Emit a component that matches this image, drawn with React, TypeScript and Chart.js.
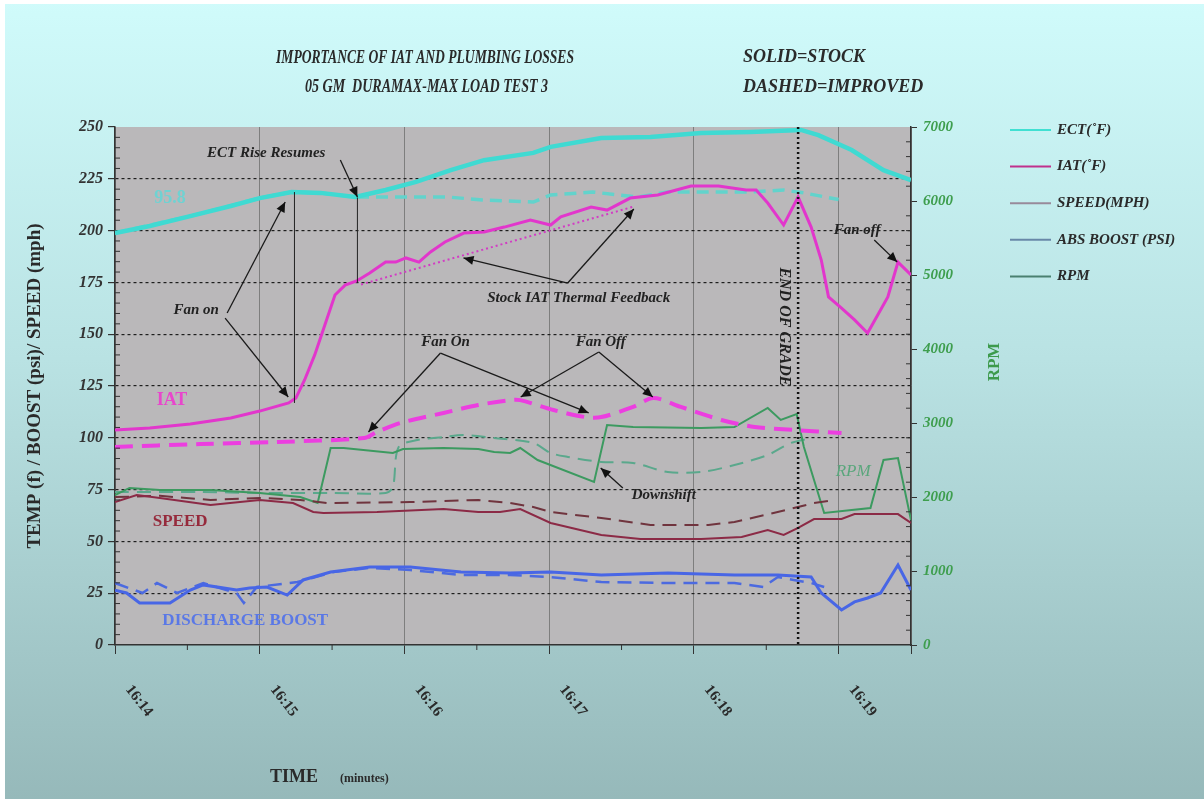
import React, { useEffect, useRef } from 'react';
import { Chart, registerables } from 'chart.js';

Chart.register(...registerables);

const SERIF = '"Liberation Serif", "DejaVu Serif", serif';

// ---- Data (time in minutes after 16:14) ----
const tickLabels = ['16:14', '16:15', '16:16', '16:17', '16:18', '16:19'];

const ectStockT = [0, 0.24, 0.52, 0.8, 1.0, 1.22, 1.42, 1.66, 1.87, 2.08, 2.32, 2.55, 2.89, 3.01, 3.36, 3.7, 4.05, 4.39, 4.74, 4.86, 5.09, 5.31, 5.5];
const ectStockV = [198.8, 202.2, 207, 211.9, 215.7, 218.6, 218.2, 216.2, 219.6, 223.5, 229.2, 234, 237.5, 240.4, 244.7, 245.2, 247.1, 247.6, 248.6, 246.1, 238.9, 229.2, 224.4];

const ectImpT = [0, 0.52, 1.0, 1.22, 1.42, 1.66, 2.3, 2.54, 2.89, 3.01, 3.3, 3.61, 3.82, 4.39, 4.62, 4.76, 5.0];
const ectImpV = [198.8, 207, 215.7, 218.6, 218.2, 216.2, 216.2, 214.8, 213.8, 217.2, 218.6, 216.2, 218.6, 218.6, 219.6, 218.2, 215];

const iatStockT = [0, 0.24, 0.52, 0.8, 1.0, 1.2, 1.25, 1.31, 1.38, 1.45, 1.52, 1.59, 1.67, 1.76, 1.87, 1.94, 2.01, 2.1, 2.18, 2.28, 2.41, 2.55, 2.69, 2.87, 3.01, 3.08, 3.29, 3.4, 3.56, 3.75, 3.98, 4.17, 4.36, 4.43, 4.51, 4.62, 4.72, 4.81, 4.88, 4.93, 5.02, 5.11, 5.2, 5.27, 5.34, 5.41, 5.5];
const iatStockV = [103.8, 104.7, 106.7, 109.6, 112.9, 116.8, 119.2, 127.9, 140, 154.4, 168.9, 173.7, 175.7, 179.5, 184.8, 184.8, 186.8, 184.8, 189.7, 194.5, 198.8, 199.3, 201.7, 205.1, 202.7, 206.6, 211.4, 209.9, 215.7, 217.2, 221.5, 221.5, 219.6, 219.6, 213.3, 202.7, 216.2, 201.7, 185.8, 168, 162.6, 156.9, 150.6, 159.3, 168, 184.8, 178.6];

const iatTrendT = [1.7, 3.58];
const iatTrendV = [174, 211.5];

const iatImpT = [0, 0.59, 1.12, 1.72, 1.81, 1.97, 2.27, 2.51, 2.73, 2.8, 3.03, 3.25, 3.36, 3.58, 3.72, 3.91, 4.19, 4.42, 4.69, 5.02];
const iatImpV = [95.6, 97, 98, 99.9, 102.8, 107.1, 112, 115.8, 118.2, 118.2, 113.4, 110, 110, 114.9, 119.2, 114.9, 108.6, 105.2, 103.8, 102.3];

const rpmStockT = [0, 0.1, 0.31, 0.66, 1.0, 1.28, 1.4, 1.49, 1.58, 1.92, 1.99, 2.27, 2.51, 2.62, 2.73, 2.8, 2.92, 3.31, 3.4, 3.58, 4.05, 4.28, 4.51, 4.6, 4.71, 4.76, 4.83, 4.9, 5.09, 5.22, 5.31, 5.41, 5.5];
const rpmStockV = [2027, 2122, 2095, 2095, 2054, 2000, 1919, 2662, 2662, 2595, 2649, 2662, 2649, 2608, 2595, 2662, 2500, 2203, 2973, 2946, 2932, 2946, 3203, 3041, 3122, 2676, 2230, 1784, 1824, 1851, 2500, 2527, 1689];

const rpmImpT = [0, 0.59, 1.0, 1.49, 1.87, 1.92, 1.96, 2.09, 2.27, 2.41, 2.62, 2.89, 3.01, 3.13, 3.36, 3.58, 3.82, 4.05, 4.28, 4.51, 4.67, 4.81];
const rpmImpV = [2068, 2068, 2054, 2054, 2054, 2135, 2676, 2770, 2811, 2838, 2797, 2730, 2595, 2541, 2473, 2460, 2338, 2338, 2432, 2568, 2730, 2797];

const speedStockT = [0, 0.15, 0.31, 0.66, 1.0, 1.23, 1.37, 1.44, 1.81, 2.27, 2.51, 2.66, 2.8, 3.01, 3.36, 3.63, 4.05, 4.33, 4.51, 4.62, 4.72, 4.83, 5.02, 5.11, 5.41, 5.5];
const speedStockV = [69, 72.4, 70.9, 67.6, 70, 68.5, 64.2, 63.7, 64.2, 65.6, 64.2, 64.2, 65.6, 58.9, 53.1, 51.2, 51.2, 52.1, 55.5, 53.1, 56.5, 60.8, 60.8, 63.2, 63.2, 58.9];

const speedImpT = [0, 0.31, 0.66, 1.0, 1.28, 1.47, 2.04, 2.51, 2.73, 2.89, 3.01, 3.36, 3.7, 4.1, 4.28, 4.55, 4.69, 4.83, 4.97];
const speedImpV = [71.4, 72, 70, 71, 70, 68.5, 69, 70, 68.5, 66.6, 64.2, 61.3, 57.9, 57.9, 59.4, 63.7, 66.1, 68.5, 70];

const boostStockT = [0, 0.08, 0.17, 0.38, 0.52, 0.61, 0.84, 0.93, 1.05, 1.19, 1.3, 1.49, 1.76, 2.04, 2.39, 2.73, 3.01, 3.36, 3.82, 4.28, 4.58, 4.81, 4.88, 5.02, 5.11, 5.2, 5.29, 5.41, 5.5];
const boostStockV = [26.5, 25.1, 20.3, 20.3, 26.5, 29, 26.5, 27.5, 28, 24.1, 31.4, 35.2, 37.6, 37.6, 35.2, 34.7, 35.2, 33.8, 34.7, 33.8, 33.8, 32.8, 25.1, 16.9, 20.8, 22.7, 25.1, 38.6, 26.5];

const boostImpT = [0, 0.19, 0.29, 0.43, 0.61, 0.84, 0.89, 0.98, 1.26, 1.51, 1.76, 2.04, 2.39, 2.73, 3.01, 3.36, 3.82, 4.28, 4.48, 4.58, 4.69, 4.81, 4.9];
const boostImpV = [29.9, 25.1, 29.9, 25.1, 29.9, 25.1, 20.3, 28, 30.4, 35.2, 37.2, 36.2, 33.8, 33.8, 32.8, 30.4, 29.9, 29.9, 28, 32.8, 31.4, 29.9, 28];

const legendLabels = ['ECT(\u02DAF)', 'IAT(\u02DAF)', 'SPEED(MPH)', 'ABS BOOST (PSI)', 'RPM'];
const legendColors = ['#40e0d2', '#c0308c', '#988a9a', '#6888a8', '#4a8070'];

const endOfGradeT = 4.72;

// annotation arrows: [fromT, fromV, toT, toV]
const arrows: number[][] = [
  [1.557, 234.1, 1.675, 216.2],
  [0.775, 160.2, 1.176, 213.8],
  [0.761, 157.8, 1.197, 119.7],
  [3.128, 174.7, 2.408, 186.8],
  [3.128, 174.7, 3.585, 210.4],
  [2.249, 140.9, 1.751, 102.8],
  [2.249, 140.9, 3.273, 112.0],
  [3.343, 141.4, 2.803, 119.7],
  [3.343, 141.4, 3.716, 119.7],
  [3.509, 75.8, 3.356, 85.4],
  [5.246, 195.5, 5.405, 184.8],
];
// thin vertical reference lines: [t, fromV, toV]
const refLines: number[][] = [
  [1.24, 218.6, 116.8],
  [1.675, 216.0, 174.7],
];
// annotation texts: [text, t, v]
const notes: [string, number, number][] = [
  ['ECT Rise Resumes', 1.045, 237.5],
  ['Fan on', 0.561, 161.7],
  ['Stock IAT Thermal Feedback', 3.204, 167.5],
  ['Fan On', 2.284, 146.2],
  ['Fan Off', 3.356, 146.2],
  ['Downshift', 3.792, 72.4],
  ['Fan off', 5.128, 200.3],
];

const mk = (t: number[], v: number[]) => t.map((x, i) => ({ x, y: v[i] }));

function drawArrow(ctx: CanvasRenderingContext2D, x1: number, y1: number, x2: number, y2: number) {
  ctx.beginPath();
  ctx.moveTo(x1, y1);
  ctx.lineTo(x2, y2);
  ctx.stroke();
  const a = Math.atan2(y2 - y1, x2 - x1);
  const L = 10, W = 4.5;
  ctx.beginPath();
  ctx.moveTo(x2, y2);
  ctx.lineTo(x2 - L * Math.cos(a) + W * Math.sin(a), y2 - L * Math.sin(a) - W * Math.cos(a));
  ctx.lineTo(x2 - L * Math.cos(a) - W * Math.sin(a), y2 - L * Math.sin(a) + W * Math.cos(a));
  ctx.closePath();
  ctx.fill();
}

const bgPlugin = {
  id: 'bgPlugin',
  beforeDraw(chart: any) {
    const { ctx, width, height, chartArea } = chart;
    ctx.save();
    ctx.fillStyle = '#ffffff';
    ctx.fillRect(0, 0, width, height);
    const g = ctx.createLinearGradient(0, 0, 0, height);
    g.addColorStop(0, '#d0fbfb');
    g.addColorStop(0.45, '#b9e2e3');
    g.addColorStop(1, '#96b9ba');
    ctx.fillStyle = g;
    ctx.fillRect(5, 4, width - 5, height - 4);
    ctx.fillStyle = '#bab8ba';
    ctx.fillRect(chartArea.left, chartArea.top, chartArea.right - chartArea.left, chartArea.bottom - chartArea.top);
    ctx.restore();
  },
};

const annoPlugin = {
  id: 'annoPlugin',
  afterDatasetsDraw(chart: any) {
    const { ctx } = chart;
    const xs = chart.scales.x;
    const ys = chart.scales.y;
    const px = (t: number) => xs.getPixelForValue(t);
    const py = (v: number) => ys.getPixelForValue(v);
    ctx.save();
    // minor ticks
    ctx.strokeStyle = '#333';
    ctx.lineWidth = 1;
    for (let v = 5; v < 250; v += 5) {
      if (v % 25 === 0) continue;
      ctx.beginPath();
      ctx.moveTo(xs.left, py(v));
      ctx.lineTo(xs.left + 5, py(v));
      ctx.stroke();
    }
    const y1 = chart.scales.y1;
    for (let r = 200; r < 7000; r += 200) {
      if (r % 1000 === 0) continue;
      ctx.beginPath();
      ctx.moveTo(xs.right, y1.getPixelForValue(r));
      ctx.lineTo(xs.right - 5, y1.getPixelForValue(r));
      ctx.stroke();
    }
    for (let t = 0.5; t < 5.5; t += 1) {
      ctx.beginPath();
      ctx.moveTo(px(t), ys.bottom);
      ctx.lineTo(px(t), ys.bottom + 5);
      ctx.stroke();
    }
    // reference lines
    ctx.strokeStyle = '#222';
    ctx.lineWidth = 1;
    refLines.forEach(([t, a, b]) => {
      ctx.beginPath();
      ctx.moveTo(px(t), py(a));
      ctx.lineTo(px(t), py(b));
      ctx.stroke();
    });
    // end of grade
    ctx.setLineDash([2, 3]);
    ctx.lineWidth = 2.5;
    ctx.strokeStyle = '#111';
    ctx.beginPath();
    ctx.moveTo(px(endOfGradeT), ys.top);
    ctx.lineTo(px(endOfGradeT), ys.bottom);
    ctx.stroke();
    ctx.setLineDash([]);
    // arrows
    ctx.strokeStyle = '#1a1a1a';
    ctx.fillStyle = '#111';
    ctx.lineWidth = 1.3;
    arrows.forEach(([a, b, c, d]) => drawArrow(ctx, px(a), py(b), px(c), py(d)));
    // notes
    ctx.font = `italic bold 15px ${SERIF}`;
    ctx.fillStyle = '#222';
    ctx.textAlign = 'center';
    ctx.textBaseline = 'middle';
    notes.forEach(([s, t, v]) => ctx.fillText(s, px(t), py(v)));
    // END OF GRADE
    ctx.save();
    ctx.translate(px(4.623), py(153.5));
    ctx.rotate(Math.PI / 2);
    ctx.font = `italic bold 16px ${SERIF}`;
    ctx.fillText('END OF GRADE', 0, 0);
    ctx.restore();
    // series labels
    ctx.font = `bold 18px ${SERIF}`;
    ctx.fillStyle = '#e846cc';
    ctx.fillText('IAT', px(0.394), py(118.2));
    ctx.font = `bold 17px ${SERIF}`;
    ctx.fillStyle = '#962a3c';
    ctx.fillText('SPEED', px(0.45), py(59.4));
    ctx.fillStyle = '#5a78e6';
    ctx.fillText('DISCHARGE BOOST', px(0.9), py(11.6));
    ctx.font = `bold 18px ${SERIF}`;
    ctx.fillStyle = '#6fd2d2';
    ctx.fillText('95.8', px(0.38), py(215.7));
    ctx.font = `italic 17px ${SERIF}`;
    ctx.fillStyle = '#5aa67c';
    ctx.fillText('RPM', px(5.1), py(83.5));
    ctx.restore();
  },
  afterDraw(chart: any) {
    const { ctx } = chart;
    const xs = chart.scales.x;
    ctx.save();
    ctx.fillStyle = '#2a2a2a';
    ctx.textBaseline = 'middle';
    // titles
    ctx.font = `italic bold 18px ${SERIF}`;
    ctx.textAlign = 'left';
    ctx.fillText('IMPORTANCE OF IAT AND PLUMBING LOSSES', 276, 58, 298);
    ctx.fillText('05 GM  DURAMAX-MAX LOAD TEST 3', 305, 87, 243);
    ctx.fillText('SOLID=STOCK', 743, 57, 128);
    ctx.fillText('DASHED=IMPROVED', 743, 87, 188);
    // legend
    ctx.font = `italic bold 15px ${SERIF}`;
    legendLabels.forEach((s, i) => {
      const y = 130 + i * 36.6;
      ctx.strokeStyle = legendColors[i];
      ctx.lineWidth = 2;
      ctx.beginPath();
      ctx.moveTo(1010, y);
      ctx.lineTo(1051, y);
      ctx.stroke();
      ctx.fillStyle = '#2a2a2a';
      ctx.fillText(s, 1057, y);
    });
    // x tick labels
    ctx.font = `bold 15px ${SERIF}`;
    ctx.textAlign = 'center';
    tickLabels.forEach((s, i) => {
      ctx.save();
      ctx.translate(xs.getPixelForValue(i) + 24, 701);
      ctx.rotate((52 * Math.PI) / 180);
      ctx.fillText(s, 0, 0);
      ctx.restore();
    });
    // axis titles
    ctx.textAlign = 'left';
    ctx.font = `bold 18px ${SERIF}`;
    ctx.fillText('TIME', 270, 777);
    ctx.font = `bold 12px ${SERIF}`;
    ctx.fillText('(minutes)', 340, 779);
    ctx.save();
    ctx.translate(35, 386);
    ctx.rotate(-Math.PI / 2);
    ctx.textAlign = 'center';
    ctx.font = `bold 19px ${SERIF}`;
    ctx.fillText('TEMP (f) / BOOST (psi)/ SPEED (mph)', 0, 0, 360);
    ctx.restore();
    ctx.save();
    ctx.translate(995, 362);
    ctx.rotate(-Math.PI / 2);
    ctx.textAlign = 'center';
    ctx.fillStyle = '#3d9a4c';
    ctx.font = `bold 17px ${SERIF}`;
    ctx.fillText('RPM', 0, 0);
    ctx.restore();
    ctx.restore();
  },
};

export default function App() {
  const ref = useRef<HTMLCanvasElement | null>(null);
  useEffect(() => {
    document.body.style.margin = '0';
    const canvas = ref.current!;
    const base = { pointRadius: 0, fill: false, tension: 0 };
    const chart = new Chart(canvas, {
      type: 'line',
      data: {
        datasets: [
          { ...base, label: 'IAT stock', data: mk(iatStockT, iatStockV), borderColor: '#e236cc', borderWidth: 3, yAxisID: 'y' },
          { ...base, label: 'IAT improved', data: mk(iatImpT, iatImpV), borderColor: '#ec3ee0', borderWidth: 4, borderDash: [18, 9], tension: 0.3, yAxisID: 'y' },
          { ...base, label: 'IAT trend', data: mk(iatTrendT, iatTrendV), borderColor: '#d23cc4', borderWidth: 2, borderDash: [2, 3], yAxisID: 'y' },
          { ...base, label: 'ECT stock', data: mk(ectStockT, ectStockV), borderColor: '#3fdad2', borderWidth: 4.5, yAxisID: 'y' },
          { ...base, label: 'ECT improved', data: mk(ectImpT, ectImpV), borderColor: '#62d3cc', borderWidth: 3.5, borderDash: [12, 7], yAxisID: 'y' },
          { ...base, label: 'SPEED stock', data: mk(speedStockT, speedStockV), borderColor: '#8c2a46', borderWidth: 2, yAxisID: 'y' },
          { ...base, label: 'SPEED improved', data: mk(speedImpT, speedImpV), borderColor: '#70343e', borderWidth: 2, borderDash: [14, 8], yAxisID: 'y' },
          { ...base, label: 'BOOST stock', data: mk(boostStockT, boostStockV), borderColor: '#4866e6', borderWidth: 3, yAxisID: 'y' },
          { ...base, label: 'BOOST improved', data: mk(boostImpT, boostImpV), borderColor: '#4c6ae0', borderWidth: 2.5, borderDash: [14, 8], yAxisID: 'y' },
          { ...base, label: 'RPM stock', data: mk(rpmStockT, rpmStockV), borderColor: '#3c9a60', borderWidth: 2, yAxisID: 'y1' },
          { ...base, label: 'RPM improved', data: mk(rpmImpT, rpmImpV), borderColor: '#5aa88c', borderWidth: 2, borderDash: [14, 8], tension: 0.3, yAxisID: 'y1' },
        ],
      },
      options: {
        responsive: false,
        animation: false,
        devicePixelRatio: 1,
        layout: { padding: { top: 127, left: 0, right: 213, bottom: 0 } },
        plugins: { legend: { display: false }, tooltip: { enabled: false }, title: { display: false } },
        scales: {
          x: {
            type: 'linear',
            min: 0,
            max: 5.5,
            position: 'bottom',
            afterFit: (s: any) => { s.height = 154; },
            ticks: { stepSize: 1, display: false },
            grid: { color: '#7e7e7e', lineWidth: 1, tickLength: 9, tickColor: '#333' },
            border: { color: '#333', width: 1.5 },
          },
          y: {
            type: 'linear',
            position: 'left',
            min: 0,
            max: 250,
            afterFit: (s: any) => { s.width = 115; },
            ticks: {
              stepSize: 25,
              padding: 5,
              color: '#333',
              font: { family: SERIF, size: 16, style: 'italic', weight: 'bold' },
            },
            grid: {
              color: (c: any) => (c.tick && (c.tick.value === 0 || c.tick.value === 250) ? 'rgba(0,0,0,0)' : '#1e1e1e'),
              lineWidth: 1.2,
              tickLength: 7,
              tickColor: '#333',
            },
            border: { color: '#333', width: 1.5, dash: [3, 3] },
          },
          y1: {
            type: 'linear',
            position: 'right',
            min: 0,
            max: 7000,
            afterFit: (s: any) => { s.width = 80; },
            ticks: {
              stepSize: 1000,
              padding: 6,
              color: '#3e9e4e',
              callback: (v: any) => String(v),
              font: { family: SERIF, size: 15, style: 'italic', weight: 'bold' },
            },
            grid: { drawOnChartArea: false, tickLength: 6, tickColor: '#333' },
            border: { color: '#333', width: 1.5 },
          },
        },
      },
      plugins: [bgPlugin, annoPlugin],
    } as any);
    return () => chart.destroy();
  }, []);
  return (
    <div style={{ position: 'fixed', left: 0, top: 0, width: 1204, height: 799 }}>
      <canvas ref={ref} width={1204} height={799} style={{ display: 'block', width: 1204, height: 799 }} />
    </div>
  );
}
